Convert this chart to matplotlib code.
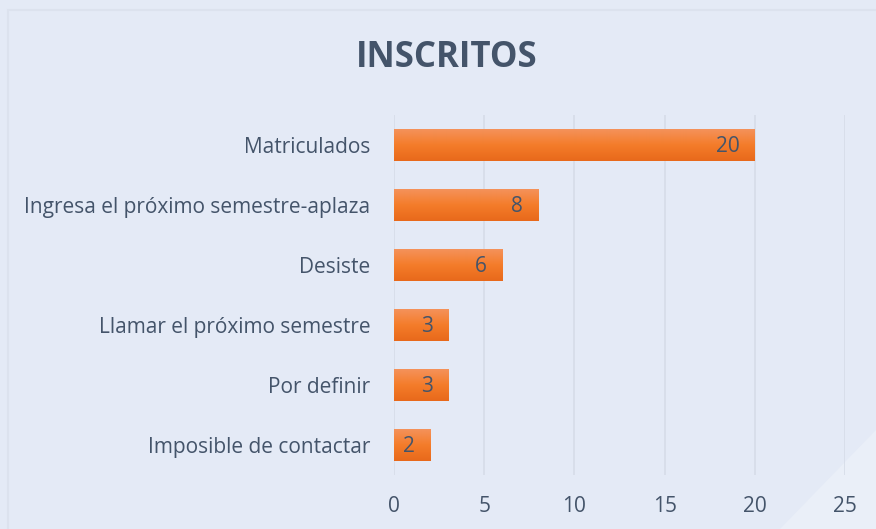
import matplotlib.pyplot as plt
import numpy as np
from matplotlib.patches import Polygon, Rectangle
from matplotlib.colors import LinearSegmentedColormap

categories = ["Matriculados", "Ingresa el próximo semestre-aplaza", "Desiste",
              "Llamar el próximo semestre", "Por definir", "Imposible de contactar"]
values = [20, 8, 6, 3, 3, 2]
x_ticks = [0, 5, 10, 15, 20, 25]

bg = "#E4EAF6"
text_color = "#44546A"

plt.rcParams['font.family'] = ['Open Sans', 'DejaVu Sans']

fig = plt.figure(figsize=(8.76, 5.29), dpi=100, facecolor=bg)

# frame and lighter corner, kept behind the axes
fig.patches.append(Rectangle((8 / 876, -0.1), 1.0, 1 - 10 / 529 + 0.1, transform=fig.transFigure,
                             fill=False, edgecolor="#DCE2EE", linewidth=1.5, zorder=-2))
fig.patches.append(Polygon([(1.0, 1 - 430 / 529), (1.0, 0.0), (780 / 876, 0.0)], closed=True,
                           transform=fig.transFigure, facecolor="#EAEFF8", edgecolor="none",
                           zorder=-1))

ax = fig.add_axes([394 / 876, 1 - 475 / 529, 451 / 876, 360 / 529])
ax.set_facecolor("none")

y = np.arange(len(categories))
bars = ax.barh(y, values, height=0.52, color="#F47B26", zorder=2)

cmap = LinearSegmentedColormap.from_list("orange", ["#F4925A", "#F47C2A", "#E8691B"])
grad = np.linspace(0, 1, 64).reshape(-1, 1)
for b, v in zip(bars, values):
    x0, y0 = b.get_x(), b.get_y()
    w, h = b.get_width(), b.get_height()
    b.set_visible(False)
    ax.imshow(grad, cmap=cmap, aspect="auto", extent=[x0, x0 + w, y0 + h, y0],
              zorder=2, interpolation="bilinear")
    ax.text(x0 + w - 0.85, y0 + h / 2 + 0.03, str(v), ha="right", va="center",
            fontsize=15, color=text_color, zorder=3)

ax.set_xlim(0, 25)
ax.set_ylim(len(categories) - 0.5, -0.5)
ax.set_xticks(x_ticks)
ax.set_yticks(y)
ax.set_yticklabels(categories)
ax.tick_params(axis="both", length=0, labelsize=15, labelcolor=text_color)
ax.tick_params(axis="y", pad=17)
ax.tick_params(axis="x", pad=15)
ax.grid(axis="x", color="#D6DCE8", linewidth=1.2, zorder=0)
ax.set_axisbelow(True)
for s in ax.spines.values():
    s.set_visible(False)

fig.text(447 / 876, 1 - 58 / 529, "INSCRITOS", ha="center", va="center",
         fontsize=25, fontweight="bold", color=text_color)

fig.savefig("out.png", dpi=100, facecolor=bg)
